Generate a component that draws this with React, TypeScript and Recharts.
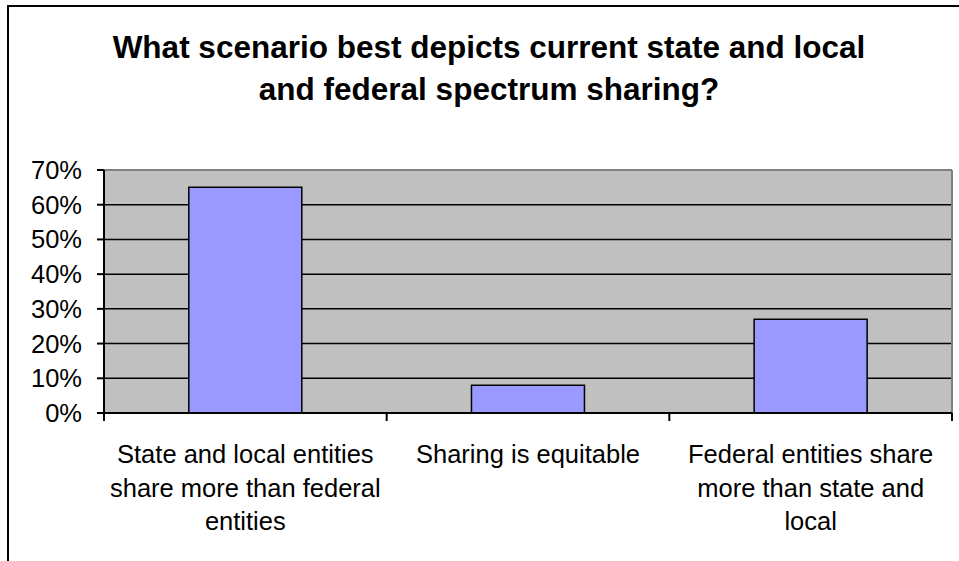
import React from "react";
import {
  BarChart, Bar, XAxis, YAxis, CartesianGrid, ReferenceLine,
} from "recharts";

const title = [
  "What scenario best depicts current state and local",
  "and federal spectrum sharing?",
];

const categories = [
  "State and local entities\nshare more than federal\nentities",
  "Sharing is equitable",
  "Federal entities share\nmore than state and\nlocal",
];
const values = [65, 8, 27];

const yTicks = [0, 10, 20, 30, 40, 50, 60, 70];
const gridValues = [10, 20, 30, 40, 50, 60];
const yMax = 70;

const data = categories.map((name, i) => ({ name, value: values[i] }));

const font = "'Liberation Sans', Arial, sans-serif";

function CatTick(props: any) {
  const { x, y, payload, index } = props;
  const half = payload.offset ?? 0;
  const lines = String(payload.value).split("\n");
  const last = index === categories.length - 1;
  return (
    <g>
      <line x1={x - half} x2={x - half} y1={y} y2={y + 8} stroke="#000" strokeWidth={2} />
      {last && <line x1={x + half} x2={x + half} y1={y} y2={y + 8} stroke="#000" strokeWidth={2} />}
      <text x={x} y={y} textAnchor="middle" fill="#000" fontSize={25.5} fontFamily={font}>
        {lines.map((l, i) => (
          <tspan key={i} x={x} dy={i === 0 ? 50 : 33.5}>{l}</tspan>
        ))}
      </text>
    </g>
  );
}

export default function App() {
  return (
    <div style={{ position: "absolute", left: 0, top: 0, width: 959, height: 561, overflow: "hidden", background: "#fff" }}>
      <div style={{
        position: "absolute", left: 7, top: 5, width: 980, height: 600,
        borderTop: "2px solid #000", borderLeft: "2px solid #000",
      }} />
      <div style={{
        position: "absolute", left: 0, top: 26, width: 978, textAlign: "center",
        fontFamily: font, fontWeight: "bold", fontSize: 31.5, lineHeight: "42px", color: "#000",
      }}>
        {title.map((t, i) => <div key={i}>{t}</div>)}
      </div>
      <div style={{ position: "absolute", left: 0, top: 0 }}>
        <BarChart width={959} height={561} data={data} barCategoryGap="30%"
          margin={{ top: 170, right: 7, left: 0, bottom: 8 }}>
          <CartesianGrid horizontalValues={gridValues} vertical={false}
            stroke="#000" strokeWidth={1.5} fill="#C0C0C0" fillOpacity={1} />
          <ReferenceLine y={yMax} stroke="#808080" strokeWidth={2} />
          <ReferenceLine x={categories[categories.length - 1]} position="end" stroke="#808080" strokeWidth={2} />
          <XAxis dataKey="name" height={140} tickLine={false} tickSize={0} tickMargin={0}
            axisLine={{ stroke: "#000", strokeWidth: 2 }} tick={<CatTick />} interval={0} />
          <YAxis width={104} domain={[0, yMax]} ticks={yTicks} interval={0} tickFormatter={(v: number) => `${v}%`}
            tick={{ fill: "#000", fontSize: 25.5, fontFamily: font }} tickSize={7} tickMargin={15}
            axisLine={{ stroke: "#000", strokeWidth: 2 }} tickLine={{ stroke: "#000", strokeWidth: 2 }} />
          <Bar dataKey="value" fill="#9999FF" stroke="#000" strokeWidth={1.5}
            isAnimationActive={false} />
        </BarChart>
      </div>
    </div>
  );
}
